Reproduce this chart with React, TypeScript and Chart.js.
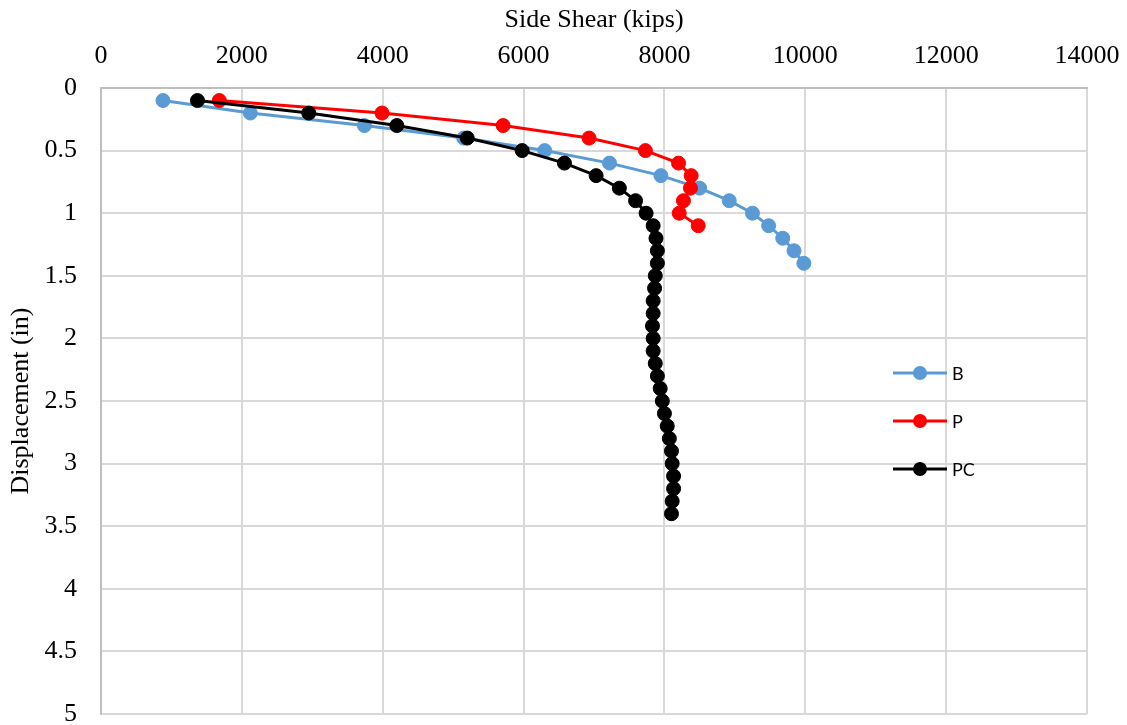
import { useEffect, useRef } from "react";
import { Chart, registerables } from "chart.js";

Chart.register(...registerables);

// ---- data ----
const displacementB = [0.1, 0.2, 0.3, 0.4, 0.5, 0.6, 0.7, 0.8, 0.9, 1.0, 1.1, 1.2, 1.3, 1.4];
const shearB = [880, 2120, 3740, 5150, 6300, 7220, 7950, 8500, 8920, 9250, 9480, 9680, 9840, 9980];

const displacementP = [0.1, 0.2, 0.3, 0.4, 0.5, 0.6, 0.7, 0.8, 0.9, 1.0, 1.1];
const shearP = [1680, 3990, 5710, 6930, 7730, 8200, 8380, 8370, 8270, 8210, 8480];

const displacementPC = [
  0.1, 0.2, 0.3, 0.4, 0.5, 0.6, 0.7, 0.8, 0.9, 1.0,
  1.1, 1.2, 1.3, 1.4, 1.5, 1.6, 1.7, 1.8, 1.9, 2.0,
  2.1, 2.2, 2.3, 2.4, 2.5, 2.6, 2.7, 2.8, 2.9, 3.0,
  3.1, 3.2, 3.3, 3.4,
];
const shearPC = [
  1370, 2950, 4200, 5200, 5980, 6580, 7030, 7360, 7590, 7740,
  7840, 7880, 7900, 7900, 7870, 7860, 7840, 7840, 7830, 7840,
  7840, 7870, 7900, 7940, 7970, 8000, 8040, 8070, 8100, 8110,
  8130, 8130, 8110, 8100,
];

const seriesLabels = ["B", "P", "PC"];
const seriesColors = ["#5B9BD5", "#FF0000", "#000000"];

const xTitle = "Side Shear (kips)";
const yTitle = "Displacement (in)";
const xMin = 0;
const xMax = 14000;
const xStep = 2000;
const yMin = 0;
const yMax = 5;
const yStep = 0.5;

const toPoints = (xs: number[], ys: number[]) => xs.map((x, i) => ({ x, y: ys[i] }));

const insideLegend = {
  id: "insideLegend",
  afterDraw(chart: any) {
    const ctx = chart.ctx as CanvasRenderingContext2D;
    const x0 = 893;
    const x1 = 947;
    const xm = 920;
    const y0 = 373;
    const dy = 48;
    ctx.save();
    chart.data.datasets.forEach((ds: any, i: number) => {
      const y = y0 + i * dy;
      ctx.strokeStyle = ds.borderColor;
      ctx.lineWidth = 3;
      ctx.beginPath();
      ctx.moveTo(x0, y);
      ctx.lineTo(x1, y);
      ctx.stroke();
      ctx.fillStyle = ds.pointBackgroundColor;
      ctx.beginPath();
      ctx.arc(xm, y, 7, 0, Math.PI * 2);
      ctx.fill();
      ctx.fillStyle = "#000000";
      ctx.font = "18px Lato";
      ctx.textAlign = "left";
      ctx.textBaseline = "middle";
      ctx.fillText(ds.label, 952, y + 1);
    });
    ctx.restore();
  },
};

function makeDataset(label: string, color: string, xs: number[], ys: number[], order: number) {
  return {
    label,
    data: toPoints(xs, ys),
    showLine: true,
    borderColor: color,
    backgroundColor: color,
    borderWidth: 3,
    pointRadius: 7,
    pointBorderWidth: 1,
    pointBackgroundColor: color,
    pointBorderColor: color,
    tension: 0,
    order,
  };
}

export default function App() {
  const ref = useRef<HTMLCanvasElement | null>(null);

  useEffect(() => {
    if (!ref.current) return;
    const serif = "'Liberation Serif', 'Times New Roman', serif";
    const chart = new Chart(ref.current, {
      type: "scatter",
      data: {
        datasets: [
          makeDataset(seriesLabels[0], seriesColors[0], shearB, displacementB, 3),
          makeDataset(seriesLabels[1], seriesColors[1], shearP, displacementP, 2),
          makeDataset(seriesLabels[2], seriesColors[2], shearPC, displacementPC, 1),
        ],
      },
      options: {
        animation: false,
        responsive: false,
        layout: { padding: { left: 0, top: 0, right: 40, bottom: 11 } },
        plugins: {
          legend: { display: false },
          tooltip: { enabled: false },
        },
        scales: {
          x: {
            type: "linear",
            position: "top",
            min: xMin,
            max: xMax,
            ticks: {
              stepSize: xStep,
              padding: 16,
              color: "#000000",
              font: { family: serif, size: 26 },
              callback: (v: any) => String(v),
            },
            grid: { color: "#D9D9D9", lineWidth: 2, drawTicks: false },
            border: { color: "#BFBFBF", width: 2 },
            title: {
              display: true,
              text: xTitle,
              color: "#000000",
              font: { family: serif, size: 26 },
              padding: { top: 5, bottom: 0 },
            },
            afterFit: (s: any) => {
              s.height = 88;
              s.paddingLeft = 0;
              s.paddingRight = 0;
            },
          },
          y: {
            type: "linear",
            reverse: true,
            min: yMin,
            max: yMax,
            ticks: {
              stepSize: yStep,
              padding: 24,
              color: "#000000",
              font: { family: serif, size: 26 },
              callback: (v: any) => String(v),
            },
            grid: { color: "#D9D9D9", lineWidth: 2, drawTicks: false },
            border: { color: "#BFBFBF", width: 2 },
            title: {
              display: true,
              text: yTitle,
              color: "#000000",
              font: { family: serif, size: 26 },
              padding: { top: 6, bottom: 0 },
            },
            afterFit: (s: any) => {
              s.width = 101;
              s.paddingTop = 0;
              s.paddingBottom = 0;
            },
          },
        },
      },
      plugins: [insideLegend],
    });
    return () => chart.destroy();
  }, []);

  return (
    <div style={{ position: "absolute", left: 0, top: 0, width: 1127, height: 725, background: "#ffffff" }}>
      <canvas ref={ref} width={1127} height={725} style={{ display: "block" }} />
    </div>
  );
}
